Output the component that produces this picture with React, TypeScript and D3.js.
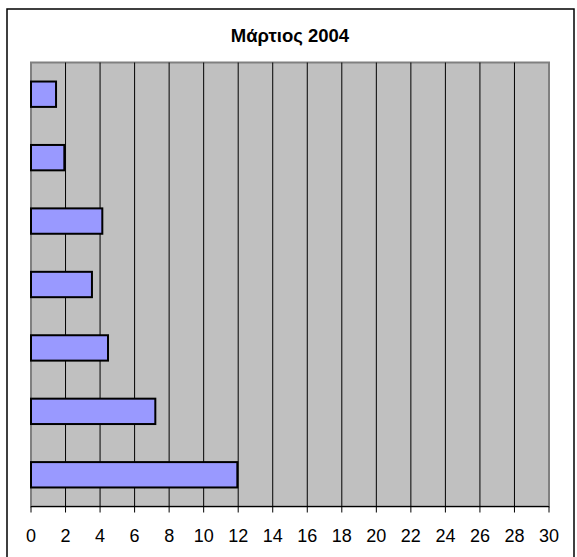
import React from "react";
import * as d3 from "d3";

const title = "Μάρτιος 2004";
const categories = ["A", "B", "C", "D", "E", "F", "G"];
const values = [1.45, 1.93, 4.13, 3.53, 4.46, 7.2, 11.95];
const xTicks = d3.range(0, 31, 2);

export default function App() {
  const W = 577, H = 557;
  const left = 31, right = 549, top = 62.5, bottom = 506.5;
  const x = d3.scaleLinear().domain([0, 30]).range([left, right]);
  const y = d3.scaleBand<string>().domain(categories).range([top, bottom]).paddingInner(0.6).paddingOuter(0.3);
  return (
    <svg width={W} height={H} style={{ position: "absolute", left: 0, top: 0, fontFamily: "Liberation Sans, Arial, sans-serif" }}>
      <rect x={0} y={0} width={W} height={H} fill="#fff" />
      <rect x={7} y={9} width={567} height={560} fill="#fff" stroke="#000" strokeWidth={1.5} />
      <text x={290} y={42} textAnchor="middle" fontWeight="bold" fontSize={18.5}>{title}</text>
      <rect x={left} y={top} width={right - left} height={bottom - top} fill="#C0C0C0" stroke="#808080" strokeWidth={2} />
      {xTicks.filter(t => t > 0 && t < 30).map(t => (
        <line key={t} x1={x(t)} x2={x(t)} y1={top} y2={bottom} stroke="#000" strokeWidth={1} />
      ))}
      {values.map((v, i) => (
        <rect key={i} x={x(0)} y={y(categories[i])} width={x(v) - x(0)} height={y.bandwidth()} fill="#9999FF" stroke="#000" strokeWidth={2} />
      ))}
      <line x1={left} x2={right} y1={bottom} y2={bottom} stroke="#000" strokeWidth={1} />
      {xTicks.map(t => (
        <g key={t}>
          <line x1={x(t)} x2={x(t)} y1={bottom} y2={bottom + 6} stroke="#000" strokeWidth={1} />
          <text x={x(t)} y={542} textAnchor="middle" fontSize={18}>{t}</text>
        </g>
      ))}
    </svg>
  );
}
